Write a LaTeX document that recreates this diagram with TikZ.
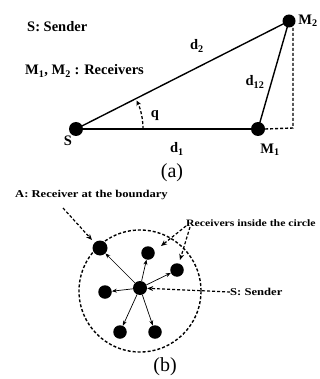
\documentclass[tikz,border=0pt]{standalone}
\usepackage{fontspec}
\setmainfont{Liberation Serif}
\newfontfamily\bwide{Liberation Serif}[FakeStretch=1.2]
\usetikzlibrary{arrows.meta,calc}
\begin{document}
\begin{tikzpicture}[x=1pt,y=-1pt,
  dot/.style={circle,fill=black,inner sep=0pt,minimum size=#1},
  dot/.default=14pt,
  lab/.style={font=\fontsize{14.5}{16}\selectfont\bfseries,inner sep=0pt},
  blab/.style={font=\bwide\fontsize{10.5}{12}\selectfont\bfseries,inner sep=0pt},
  captxt/.style={font=\fontsize{20}{22}\selectfont,inner sep=0pt},
  line/.style={line width=1.4pt},
  dline/.style={dashed,line width=1.4pt,dash pattern=on 3pt off 2pt},
  sarr/.style={-{Stealth[length=5pt,width=4pt]},line width=0.7pt},
  darr/.style={dashed,line width=1.2pt,dash pattern=on 3pt off 2pt,-{Stealth[length=6pt,width=5pt]}}
]
\useasboundingbox[fill=white] (0,0) rectangle (320,379);
% ---------- (a) ----------
\node[dot] (S) at (76,129) {};
\node[dot] (M1) at (258,129) {};
\node[dot=13pt] (M2) at (289,21) {};
\coordinate (C) at (293,128);
\coordinate (Ctop) at (293,28);
\draw[line] (S.center) -- (M1.center);
\draw[line] (S.center) -- (M2.center);
\draw[line] (M1.center) -- (M2.center);
\draw[dline] (M1.east) -- (C) -- (Ctop);
\draw[dashed,line width=1.3pt,dash pattern=on 3pt off 2pt,-{Stealth[length=5pt,width=5pt]}]
  ($(S.center)+(67,0)$) arc[start angle=0,end angle=-25,radius=67];
\node[lab,anchor=base west] (t1) at (27,32) {S: Sender};
\node[lab,anchor=base west] (t2) at (25,75) {M\textsubscript{1}, M\textsubscript{2} : Receivers};
\node[lab] (ld2) at (197,46) {d\textsubscript{2}};
\node[lab] (ld12) at (255,82) {d\textsubscript{12}};
\node[lab] (lq) at (155,116) {q};
\node[lab] (ld1) at (177,149) {d\textsubscript{1}};
\node[lab] (lS) at (68,141) {S};
\node[lab] (lM1) at (270,150) {M\textsubscript{1}};
\node[lab] (lM2) at (308,21) {M\textsubscript{2}};
\node[captxt] (ca) at (172,173) {(a)};
% ---------- (b) ----------
\node[dline,circle,draw,minimum size=122pt,inner sep=0pt] (R) at (140,291) {};
\node[dot] (S2) at (140,288) {};
\node[dot=15pt] (A) at (100,248) {};
\node[dot=13.5pt] (R1) at (148,253) {};
\node[dot=13.5pt] (R2) at (177,270) {};
\node[dot=13.5pt] (R3) at (105,292) {};
\node[dot=13.5pt] (R4) at (120,332) {};
\node[dot=13.5pt] (R5) at (155,332) {};
\foreach \r in {A,R1,R2,R3,R4,R5} \draw[sarr] (S2) -- (\r);
\node[blab,anchor=west] (tA) at (15,195) {A: Receiver at the boundary};
\node[blab,font=\bwide\fontsize{9.8}{12}\selectfont\bfseries,anchor=west] (tR) at (186,223) {Receivers inside the circle};
\node[blab,anchor=west] (tS) at (230,292) {S: Sender};
\coordinate (a0) at (63,208);
\coordinate (a1) at (92,240);
\coordinate (b0) at (186,226);
\coordinate (b1) at (161,246);
\coordinate (c0) at (190,227);
\coordinate (c1) at (180,260);
\draw[darr] (a0) -- (a1);
\draw[darr] (b0) -- (b1);
\draw[darr] (c0) -- (c1);
\draw[darr] (tS.west) -- (S2);
\node[captxt] (cb) at (165,367) {(b)};
\end{tikzpicture}
\end{document}
